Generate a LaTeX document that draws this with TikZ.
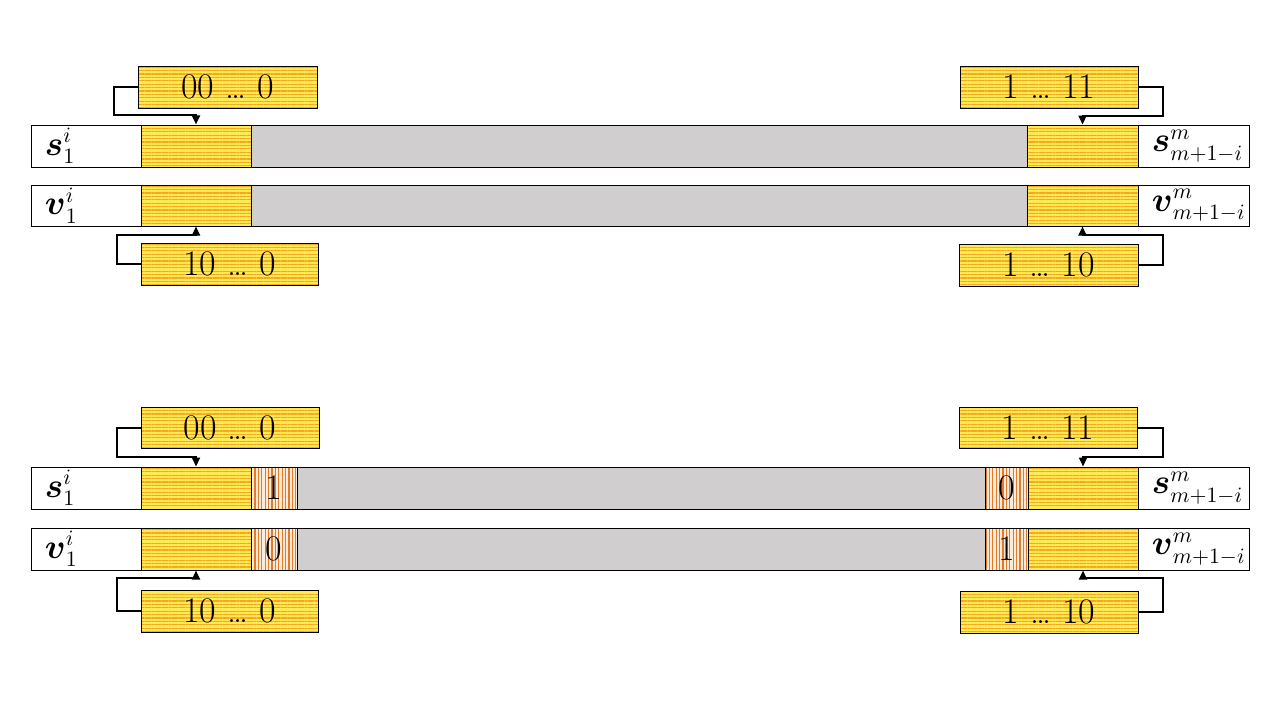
\documentclass[tikz,border=0pt]{standalone}
\usepackage{amsmath,amssymb}
\usetikzlibrary{patterns.meta,arrows.meta}
\DeclareMathSizes{17}{17}{10.5}{8}
\definecolor{ylw}{HTML}{FFEA55}
\definecolor{org}{HTML}{F5A81E}
\definecolor{stripebg}{HTML}{FCEBD8}
\definecolor{stripe}{HTML}{E27A2C}
\definecolor{gry}{HTML}{D0CECE}
\tikzset{
  cell/.style={draw=black, line width=0.5pt, inner sep=0pt, minimum height=21pt},
  lbl/.style={cell, fill=white, minimum width=55pt},
  ycell/.style={cell, preaction={fill=ylw}, pattern={Lines[angle=0,distance=1.7pt,line width=0.55pt]}, pattern color=org},
  scell/.style={cell, preaction={fill=stripebg}, pattern={Lines[angle=90,distance=1.7pt,line width=0.55pt]}, pattern color=stripe},
  gcell/.style={cell, fill=gry},
  bits/.style={ycell, font=\fontsize{18}{21}\selectfont},
  txt/.style={anchor=west, inner sep=0pt, font=\fontsize{17}{20}\selectfont},
  num/.style={inner sep=0pt, font=\fontsize{18}{21}\selectfont},
  conn/.style={draw=black, line width=1pt, -{Triangle[length=4.5pt,width=4pt]}}
}
\begin{document}
\begin{tikzpicture}[x=0.5pt,y=-0.5pt]
\useasboundingbox (0,0) rectangle (1280,720);
% ---------------- top section ----------------
\node[lbl] (sL) at (86,146) {};
\node[ycell, minimum width=55pt] (sY1) at (196,146) {};
\node[gcell, minimum width=388pt] (sG) at (639,146) {};
\node[ycell, minimum width=55.5pt] (sY2) at (1082.5,146) {};
\node[lbl, minimum width=55.5pt] (sR) at (1193.5,146) {};
\node[txt] (sLt) at ([xshift=7pt]sL.west) {$\boldsymbol{s}_1^i$};
\node[txt] (sRt) at ([xshift=7pt]sR.west) {$\boldsymbol{s}^m_{m+1-i}$};

\node[lbl, minimum height=20.5pt] (vL) at (86,205.5) {};
\node[ycell, minimum width=55pt, minimum height=20.5pt] (vY1) at (196,205.5) {};
\node[gcell, minimum width=388pt, minimum height=20.5pt] (vG) at (639,205.5) {};
\node[ycell, minimum width=55.5pt, minimum height=20.5pt] (vY2) at (1082.5,205.5) {};
\node[lbl, minimum width=55.5pt, minimum height=20.5pt] (vR) at (1193.5,205.5) {};
\node[txt] (vLt) at ([xshift=7pt]vL.west) {$\boldsymbol{v}_1^i$};
\node[txt] (vRt) at ([xshift=7pt]vR.west) {$\boldsymbol{v}^m_{m+1-i}$};

\node[bits, minimum width=89.5pt] (b1) at (227.5,87) {00 \ldots\ 0};
\node[bits, minimum width=88.5pt] (b2) at (229.5,264) {10 \ldots\ 0};
\node[bits, minimum width=89pt] (b3) at (1049,87) {1 \ldots\ 11};
\node[bits, minimum width=89.5pt] (b4) at (1048.5,265) {1 \ldots\ 10};

\coordinate (a1) at ([yshift=4.5pt]sY1.north);
\coordinate (a2) at ([yshift=-4pt]vY1.south);
\coordinate (a3) at ([yshift=4.5pt]sY2.north);
\coordinate (a4) at ([yshift=-4pt]vY2.south);
\draw[conn] (b1.west) -- ++(-24,0) |- (a1) -- (sY1.north);
\draw[conn] (b2.west) -- ++(-24,0) |- (a2) -- (vY1.south);
\draw[conn] (b3.east) -- ++(24,0) |- (a3) -- (sY2.north);
\draw[conn] (b4.east) -- ++(24,0) |- (a4) -- (vY2.south);

% ---------------- bottom section ----------------
\node[lbl] (tL) at (86,488) {};
\node[ycell, minimum width=55pt] (tY1) at (196,488) {};
\node[scell, minimum width=23pt] (tS1) at (274,488) {};
\node[gcell, minimum width=344pt] (tG) at (641,488) {};
\node[scell, minimum width=21.5pt] (tS2) at (1006.5,488) {};
\node[ycell, minimum width=55pt] (tY2) at (1083,488) {};
\node[lbl, minimum width=55.5pt] (tR) at (1193.5,488) {};
\node[num] (tS1t) at (tS1) {1};
\node[num] (tS2t) at (tS2) {0};
\node[txt] (tLt) at ([xshift=7pt]tL.west) {$\boldsymbol{s}_1^i$};
\node[txt] (tRt) at ([xshift=7pt]tR.west) {$\boldsymbol{s}^m_{m+1-i}$};

\node[lbl] (wL) at (86,549) {};
\node[ycell, minimum width=55pt] (wY1) at (196,549) {};
\node[scell, minimum width=23pt] (wS1) at (274,549) {};
\node[gcell, minimum width=344pt] (wG) at (641,549) {};
\node[scell, minimum width=21.5pt] (wS2) at (1006.5,549) {};
\node[ycell, minimum width=55pt] (wY2) at (1083,549) {};
\node[lbl, minimum width=55.5pt] (wR) at (1193.5,549) {};
\node[num] (wS1t) at (wS1) {0};
\node[num] (wS2t) at (wS2) {1};
\node[txt] (wLt) at ([xshift=7pt]wL.west) {$\boldsymbol{v}_1^i$};
\node[txt] (wRt) at ([xshift=7pt]wR.west) {$\boldsymbol{v}^m_{m+1-i}$};

\node[bits, minimum width=89pt, minimum height=20.5pt] (b5) at (230,427.5) {00 \ldots\ 0};
\node[bits, minimum width=88.5pt] (b6) at (229.5,611) {10 \ldots\ 0};
\node[bits, minimum width=89pt, minimum height=20.5pt] (b7) at (1048,427.5) {1 \ldots\ 11};
\node[bits, minimum width=89pt] (b8) at (1049,612) {1 \ldots\ 10};

\coordinate (a5) at ([yshift=5pt]tY1.north);
\coordinate (a6) at ([yshift=-3.5pt]wY1.south);
\coordinate (a7) at ([yshift=5pt]tY2.north);
\coordinate (a8) at ([yshift=-3.5pt]wY2.south);
\draw[conn] (b5.west) -- ++(-24,0) |- (a5) -- (tY1.north);
\draw[conn] (b6.west) -- ++(-24,0) |- (a6) -- (wY1.south);
\draw[conn] (b7.east) -- ++(25,0) |- (a7) -- (tY2.north);
\draw[conn] (b8.east) -- ++(24,0) |- (a8) -- (wY2.south);
\end{tikzpicture}
\end{document}
